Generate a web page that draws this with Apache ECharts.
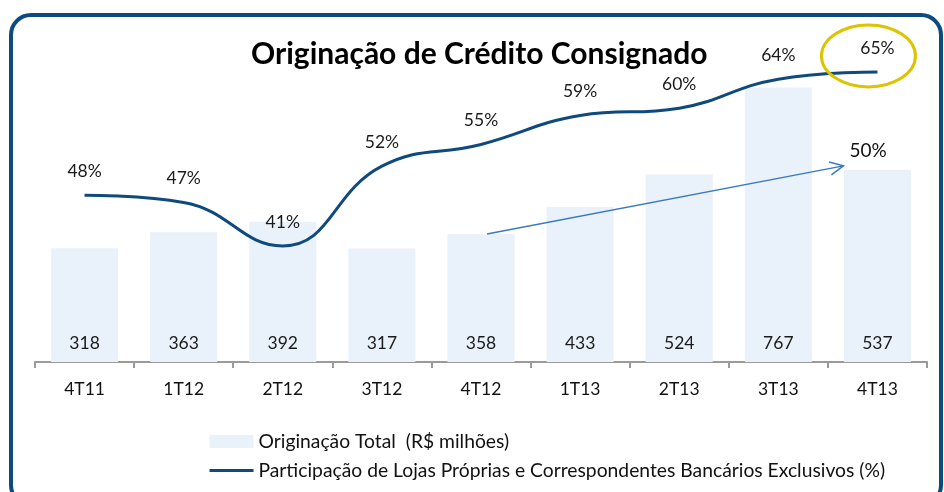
<!DOCTYPE html>
<html>
<head>
<meta charset="utf-8">
<script src="https://cdn.jsdelivr.net/npm/echarts@6/dist/echarts.min.js"></script>
<style>
  html, body { margin: 0; padding: 0; background: #fff; }
  #chart { width: 944px; height: 492px; }
</style>
</head>
<body>
<div id="chart"></div>
<script>
// quarters
const quarters = ['4T11', '1T12', '2T12', '3T12', '4T12', '1T13', '2T13', '3T13', '4T13'];
// Originação Total (R$ milhões)
const origination = [318, 363, 392, 317, 358, 433, 524, 767, 537];
// Participação de lojas próprias e correspondentes (%)
const share = [48, 47, 41, 52, 55, 59, 60, 64, 65];
// annotation arrow: from 4T12 bar to 4T13 bar, growth label
const arrowFrom = ['4T12', 358];
const arrowTo = ['4T13', 537];
const arrowLabel = '50%';

const FONT = 'Lato';
const box = document.getElementById('chart');
const myChart = echarts.init(box);

myChart.setOption({
  animation: false,
  textStyle: { fontFamily: FONT },
  title: {
    text: 'Originação de Crédito Consignado',
    left: 246,
    top: 34,
    textStyle: { fontFamily: FONT, fontSize: 30, fontWeight: 'bold', color: '#000' }
  },
  legend: {
    orient: 'vertical',
    left: 203,
    top: 427,
    itemWidth: 44,
    itemHeight: 13,
    itemGap: 10,
    textStyle: { fontFamily: FONT, fontSize: 19.3, color: '#111' },
    data: [
      { name: 'Originação Total  (R$ milhões)', icon: 'rect' },
      {
        name: 'Participação de Lojas Próprias e Correspondentes Bancários Exclusivos (%)',
        itemStyle: { opacity: 0 },
        lineStyle: { width: 3 }
      }
    ]
  },
  grid: { left: 35, right: 17, top: 40, bottom: 130 },
  xAxis: {
    type: 'category',
    data: quarters,
    axisLine: { lineStyle: { color: '#9a9a9a', width: 2 } },
    axisTick: { show: true, interval: 0, length: 6, lineStyle: { color: '#9a9a9a', width: 2 } },
    axisLabel: { margin: 18, fontSize: 17.5, color: '#111', fontFamily: FONT }
  },
  yAxis: [
    { type: 'value', min: 0, max: 900, show: false, splitLine: { show: false } },
    { type: 'value', min: 25, max: 69.4, show: false, splitLine: { show: false } }
  ],
  series: [
    {
      name: 'Originação Total  (R$ milhões)',
      type: 'bar',
      data: origination,
      barWidth: 67,
      itemStyle: { color: '#e9f2fa' },
      label: {
        show: true,
        position: 'insideBottom',
        distance: 10,
        fontSize: 17.5,
        color: '#1a1a1a',
        fontFamily: FONT
      }
    },
    {
      name: 'Participação de Lojas Próprias e Correspondentes Bancários Exclusivos (%)',
      type: 'line',
      yAxisIndex: 1,
      data: share,
      smooth: 0.45,
      symbol: 'circle',
      symbolSize: 0,
      lineStyle: { color: '#104a7c', width: 3 },
      itemStyle: { color: '#104a7c' },
      label: {
        show: true,
        position: 'top',
        distance: 15,
        formatter: '{c}%',
        fontSize: 17.5,
        color: '#1a1a1a',
        fontFamily: FONT
      }
    }
  ]
});

// annotations placed from data coordinates
const p0 = myChart.convertToPixel({ seriesIndex: 0 }, arrowFrom);
const p1 = myChart.convertToPixel({ seriesIndex: 0 }, arrowTo);
const x0 = p0[0] + 6, y0 = p0[1];
const x1 = p1[0] - 34, y1 = p1[1] - 4;
const ang = Math.atan2(y1 - y0, x1 - x0);
const head = 15, spread = 0.45;
const last = myChart.convertToPixel({ seriesIndex: 1 }, [quarters.length - 1, share[share.length - 1]]);

myChart.setOption({
  graphic: [
    {
      type: 'rect',
      z: 100,
      silent: true,
      shape: { x: 11, y: 15, width: 930, height: 490, r: 20 },
      style: { fill: 'none', stroke: '#0e4a7c', lineWidth: 4 }
    },
    {
      type: 'line',
      z: 100,
      shape: { x1: x0, y1: y0, x2: x1, y2: y1 },
      style: { stroke: '#3b79bd', lineWidth: 1.5 }
    },
    {
      type: 'polyline',
      z: 100,
      shape: {
        points: [
          [x1 - head * Math.cos(ang - spread), y1 - head * Math.sin(ang - spread)],
          [x1, y1],
          [x1 - head * Math.cos(ang + spread), y1 - head * Math.sin(ang + spread)]
        ]
      },
      style: { stroke: '#3b79bd', lineWidth: 1.5, fill: 'none' }
    },
    {
      type: 'text',
      z: 100,
      x: x1 + 6,
      y: y1 - 24,
      style: { text: arrowLabel, fontSize: 19, fontFamily: FONT, fill: '#111' }
    },
    {
      type: 'ellipse',
      z: 100,
      shape: { cx: last[0] - 9, cy: last[1] - 16, rx: 47, ry: 31 },
      style: { fill: 'none', stroke: '#dcc500', lineWidth: 3 }
    }
  ]
});

window.addEventListener('resize', () => myChart.resize());
</script>
</body>
</html>
